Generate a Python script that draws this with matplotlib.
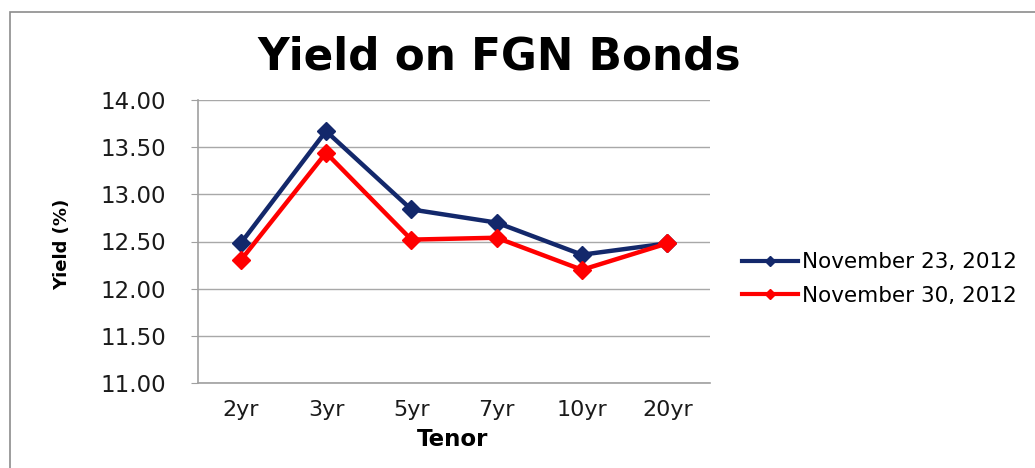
import matplotlib
matplotlib.use("Agg")
import matplotlib.pyplot as plt
from matplotlib.patches import Rectangle
from matplotlib.lines import Line2D

tenors = ["2yr", "3yr", "5yr", "7yr", "10yr", "20yr"]
nov23 = [12.48, 13.67, 12.84, 12.70, 12.36, 12.48]
nov30 = [12.30, 13.44, 12.52, 12.54, 12.20, 12.48]
labels = ["November 23, 2012", "November 30, 2012"]
yticks = [11.0, 11.5, 12.0, 12.5, 13.0, 13.5, 14.0]

W, H = 1035, 468
fig = plt.figure(figsize=(W / 100, H / 100), dpi=100)
plt.rcParams['font.family'] = ['DejaVu Sans']

# outer chart border (cropped at right and bottom)
fig.patches.append(Rectangle((10 / W, -0.1), 1.2, 1.1 - 12 / H,
                             transform=fig.transFigure, fill=False,
                             edgecolor='#8c8c8c', linewidth=1.2))

ax = fig.add_axes([198 / W, 1 - 383 / H, (710 - 198) / W, (383 - 100) / H])
x = list(range(len(tenors)))
ax.plot(x, nov23, color='#13286b', lw=3.2, marker='D', ms=9, label=labels[0], zorder=3)
ax.plot(x, nov30, color='#ff0000', lw=3.2, marker='D', ms=9, label=labels[1], zorder=3)

ax.set_xlim(-0.5, len(tenors) - 0.5)
ax.set_ylim(11.0, 14.0)
ax.set_yticks(yticks)
ax.set_yticklabels([f"{v:.2f}" for v in yticks], fontsize=16.5, color='#1a1a1a')
ax.set_xticks(x)
ax.set_xticklabels(tenors, fontsize=16, color='#1a1a1a')
ax.tick_params(axis='y', length=5, color='#a0a0a0', pad=18)
ax.tick_params(axis='x', length=0, pad=12)
ax.grid(axis='y', color='#a8a8a8', lw=1)
ax.set_axisbelow(True)
for s in ['top', 'right']:
    ax.spines[s].set_visible(False)
for s in ['left', 'bottom']:
    ax.spines[s].set_color('#a0a0a0')
    ax.spines[s].set_linewidth(1.2)

fig.text(499 / W, 1 - 57 / H, "Yield on FGN Bonds", fontsize=31.5, fontweight='bold',
         ha='center', va='center')
fig.text(453 / W, 1 - 439 / H, "Tenor", fontsize=16.5, fontweight='bold',
         ha='center', va='center')
fig.text(62 / W, 1 - 244 / H, "Yield (%)", fontsize=13, fontweight='bold',
         ha='center', va='center', rotation=90)

h1 = Line2D([], [], color='#13286b', lw=3, marker='D', ms=5)
h2 = Line2D([], [], color='#ff0000', lw=3, marker='D', ms=5)
fig.legend([h1, h2], labels, loc='center left', bbox_to_anchor=(742 / W, 1 - 279 / H),
           frameon=False, fontsize=15.5, handlelength=2.6, handletextpad=0.2,
           labelspacing=0.62, borderaxespad=0, borderpad=0)

fig.savefig("out.png", dpi=100)
